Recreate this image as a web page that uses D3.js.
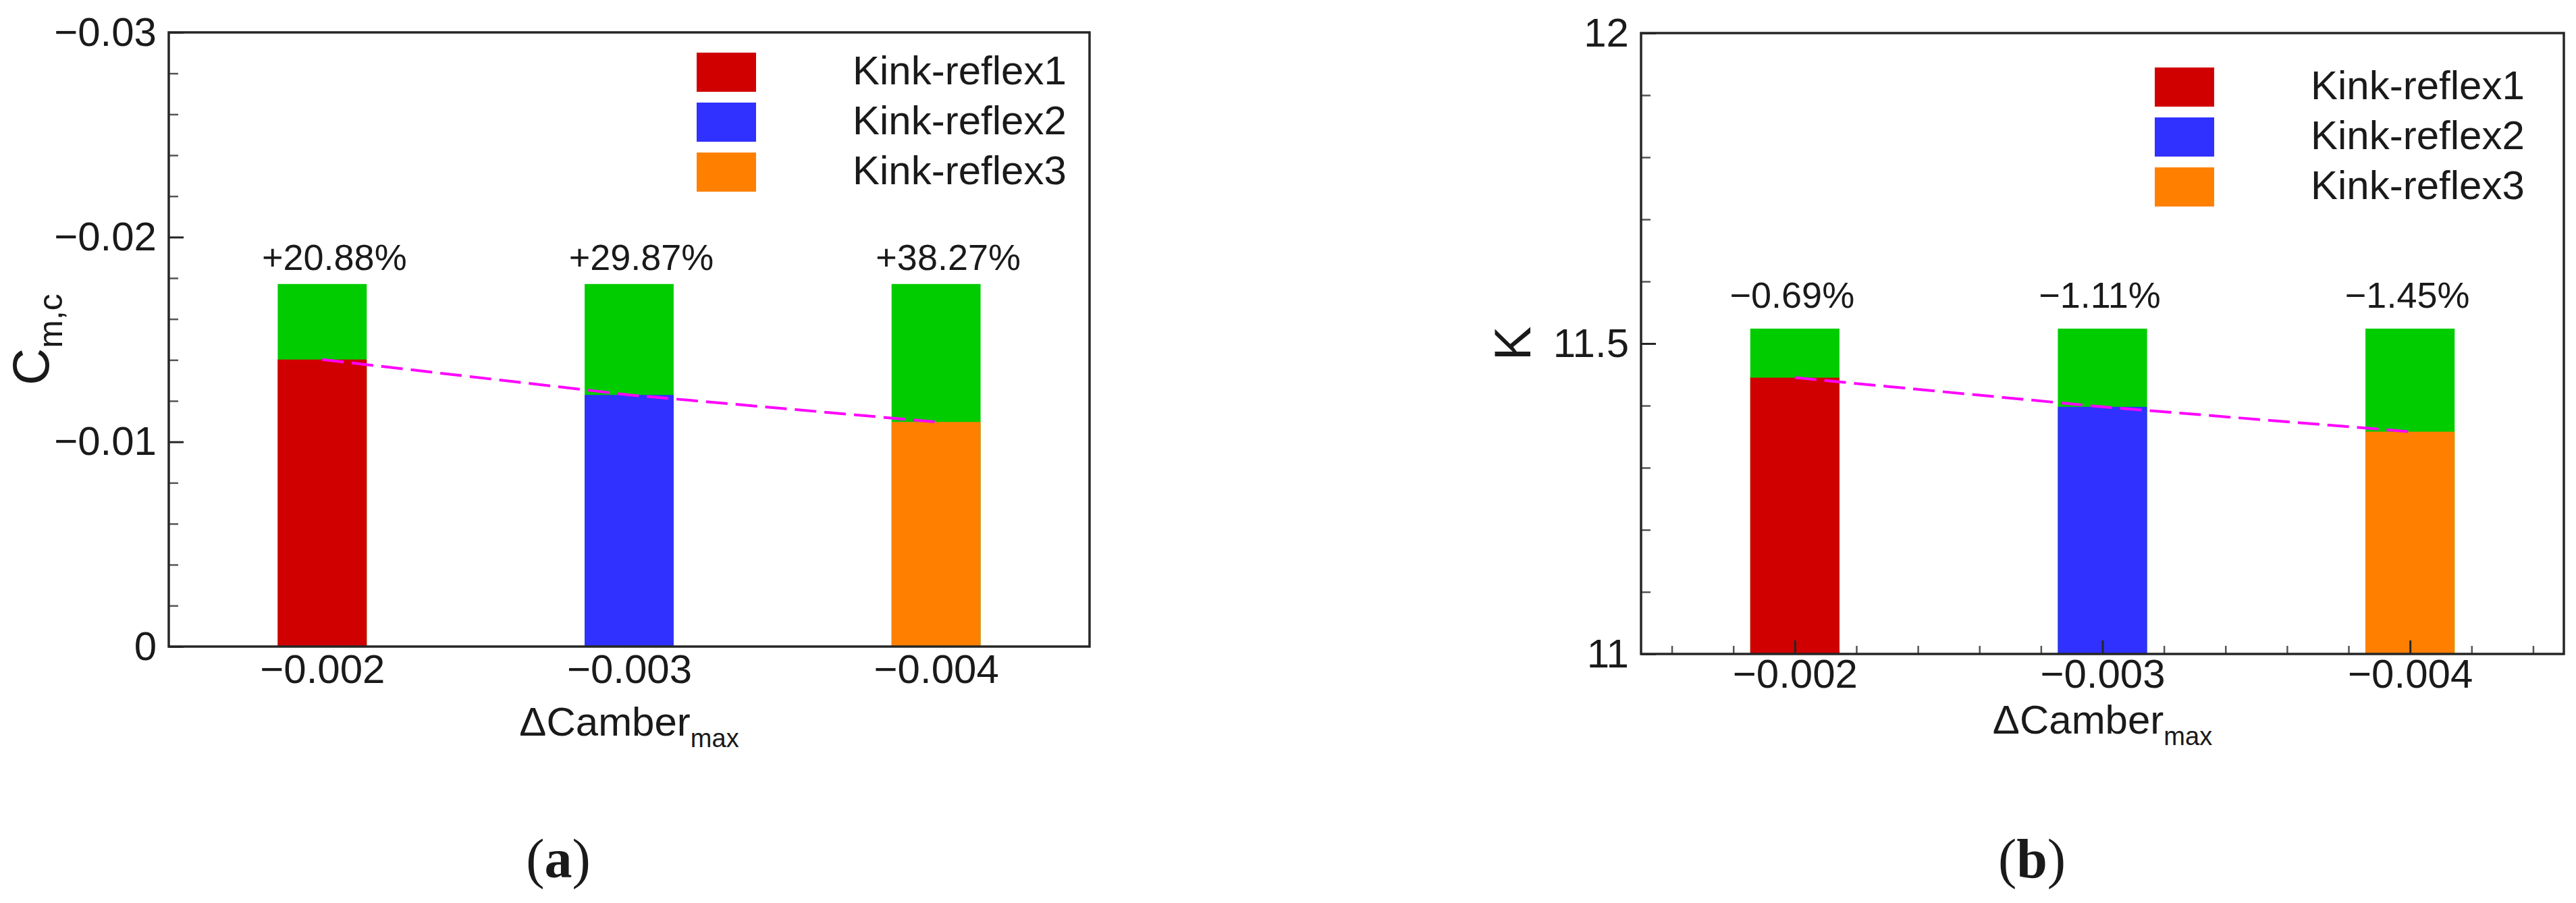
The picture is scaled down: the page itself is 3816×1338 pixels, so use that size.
<!DOCTYPE html>
<html>
<head>
<meta charset="utf-8">
<script src="https://cdn.jsdelivr.net/npm/d3@7"></script>
<style>
  body { margin: 0; background: #fff; }
  svg { display: block; }
  text { font-family: "Liberation Sans", Arial, sans-serif; fill: #1a1a1a; }
</style>
</head>
<body>
<div id="chart"></div>
<script>
// shared categories / series
const categories = ["−0.002", "−0.003", "−0.004"];
const seriesNames = ["Kink-reflex1", "Kink-reflex2", "Kink-reflex3"];

// panel (a): Cm,c
const cmBaseline = [-0.01771, -0.01771, -0.01771];
const cmKink = [-0.01402, -0.01229, -0.01097];
const cmChange = ["+20.88%", "+29.87%", "+38.27%"];
const cmTicks = [0, -0.01, -0.02, -0.03];
const cmTickLabels = ["0", "−0.01", "−0.02", "−0.03"];

// panel (b): K
const kBaseline = [11.524, 11.524, 11.524];
const kKink = [11.445, 11.398, 11.358];
const kChange = ["−0.69%", "−1.11%", "−1.45%"];
const kTicks = [11, 11.5, 12];
const kTickLabels = ["11", "11.5", "12"];

const seriesColors = ["#d00000", "#3030ff", "#ff8000"];
const baseColor = "#00cc00";
const trendColor = "#ff00ff";
const axisColor = "#262626";

const W = 3816, H = 1338;

const svg = d3.select("#chart").append("svg")
  .attr("width", W)
  .attr("height", H)
  .attr("viewBox", [0, 0, W, H]);

svg.append("rect").attr("width", W).attr("height", H).attr("fill", "#fff");

const panels = [
  {
    left: 250, right: 1614, top: 48, bottom: 958,
    domain: [0, -0.03],
    base: cmBaseline, kink: cmKink, change: cmChange,
    ticks: cmTicks, tickLabels: cmTickLabels,
    minor: d3.range(1, 15).filter(i => i % 5).map(i => -i * 0.002),
    xTicks: false, xPad: 11,
    labelDx: 18, labelGap: 21,
    legendX: 1032, legendY: 78,
    titleY: 1090, yTitle: ["C", "m,c"], yTitleX: 72,
    caption: "a", captionX: 827
  },
  {
    left: 2431, right: 3798, top: 49, bottom: 969,
    domain: [11, 12],
    base: kBaseline, kink: kKink, change: kChange,
    ticks: kTicks, tickLabels: kTickLabels,
    minor: d3.range(1, 10).filter(i => i !== 5).map(i => 11 + i * 0.1),
    xTicks: true, xPad: 7,
    labelDx: -4, labelGap: 31,
    legendX: 3192, legendY: 100,
    titleY: 1087, yTitle: ["K", ""], yTitleX: 2267,
    caption: "b", captionX: 3010
  }
];

panels.forEach(p => {
  const n = categories.length;
  const idx = d3.range(n);
  const x = d3.scaleLinear().domain([0.5, n + 0.5]).range([p.left, p.right]);
  const y = d3.scaleLinear().domain(p.domain).range([p.bottom, p.top]);
  const bw = (x(2) - x(1)) * 0.29;
  const g = svg.append("g");

  // green reference bars
  g.append("g").selectAll("rect").data(idx).join("rect")
    .attr("x", i => x(i + 1) - bw / 2)
    .attr("width", bw)
    .attr("y", i => y(p.base[i]))
    .attr("height", i => y(p.domain[0]) - y(p.base[i]))
    .attr("fill", baseColor);

  // kink-reflex bars
  g.append("g").selectAll("rect").data(idx).join("rect")
    .attr("x", i => x(i + 1) - bw / 2)
    .attr("width", bw)
    .attr("y", i => y(p.kink[i]))
    .attr("height", i => y(p.domain[0]) - y(p.kink[i]))
    .attr("fill", i => seriesColors[i]);

  // dashed trend
  g.append("path")
    .datum(idx)
    .attr("d", d3.line().x(i => x(i + 1)).y(i => y(p.kink[i])))
    .attr("fill", "none")
    .attr("stroke", trendColor)
    .attr("stroke-width", 4)
    .attr("stroke-dasharray", "32 12");

  // change labels
  g.append("g").selectAll("text").data(idx).join("text")
    .attr("x", i => x(i + 1) + p.labelDx)
    .attr("y", i => y(p.base[i]) - p.labelGap)
    .attr("text-anchor", "middle")
    .attr("font-size", 54)
    .text(i => p.change[i]);

  // y axis: minor then major ticks
  const yMinor = g.append("g")
    .attr("transform", `translate(${p.left},0)`)
    .call(d3.axisLeft(y).tickValues(p.minor).tickSize(-14).tickFormat(""));
  yMinor.selectAll("text").remove();
  const yMajor = g.append("g")
    .attr("transform", `translate(${p.left},0)`)
    .call(d3.axisLeft(y).tickValues(p.ticks).tickSizeInner(-22).tickSizeOuter(0)
      .tickPadding(18).tickFormat((d, i) => p.tickLabels[i]));

  // x axis
  const xMajor = g.append("g")
    .attr("transform", `translate(0,${p.bottom})`)
    .call(d3.axisBottom(x).tickValues(idx.map(i => i + 1))
      .tickSizeInner(p.xTicks ? -20 : 0).tickSizeOuter(0)
      .tickPadding(p.xPad).tickFormat(d => categories[d - 1]));
  const axes = [yMinor, yMajor, xMajor];
  let xMinor = null;
  if (p.xTicks) {
    xMinor = g.append("g")
      .attr("transform", `translate(0,${p.bottom})`)
      .call(d3.axisBottom(x)
        .tickValues(d3.range(3, 18).filter(i => i % 5).map(i => i * 0.2))
        .tickSize(-12).tickFormat(""));
    xMinor.selectAll("text").remove();
    axes.push(xMinor);
  }
  axes.forEach(a => {
    a.select(".domain").remove();
    a.selectAll("line").attr("stroke", axisColor).attr("stroke-width", 3);
    a.selectAll("text").attr("font-size", 60).attr("fill", "#1a1a1a")
      .attr("font-family", "Liberation Sans, Arial, sans-serif");
  });
  yMinor.selectAll("line").attr("stroke-width", 2.5).attr("stroke", "#555");
  if (xMinor) xMinor.selectAll("line").attr("stroke-width", 2.5).attr("stroke", "#555");

  // frame
  g.append("rect")
    .attr("x", p.left).attr("y", p.top)
    .attr("width", p.right - p.left).attr("height", p.bottom - p.top)
    .attr("fill", "none")
    .attr("stroke", axisColor)
    .attr("stroke-width", 3.5);

  // legend
  const lg = g.append("g").attr("transform", `translate(${p.legendX},${p.legendY})`);
  const rows = lg.selectAll("g").data(seriesNames).join("g")
    .attr("transform", (d, i) => `translate(0,${i * 74})`);
  rows.append("rect")
    .attr("width", 88).attr("height", 58)
    .attr("fill", (d, i) => seriesColors[i]);
  rows.append("text")
    .attr("x", 231).attr("y", 47)
    .attr("font-size", 60)
    .text(d => d);

  // x title
  const xt = g.append("text")
    .attr("x", (p.left + p.right) / 2)
    .attr("y", p.titleY)
    .attr("text-anchor", "middle")
    .attr("font-size", 60);
  xt.append("tspan").text("ΔCamber");
  xt.append("tspan").attr("font-size", 38).attr("dy", 17).text("max");

  // y title
  const yt = g.append("text")
    .attr("transform", `translate(${p.yTitleX},${(p.top + p.bottom) / 2}) rotate(-90)`)
    .attr("text-anchor", "middle")
    .attr("font-size", 76);
  yt.append("tspan").text(p.yTitle[0]);
  if (p.yTitle[1]) yt.append("tspan").attr("font-size", 50).attr("dy", 20).text(p.yTitle[1]);

  // caption
  const cap = svg.append("text")
    .attr("x", p.captionX)
    .attr("y", 1300)
    .attr("text-anchor", "middle")
    .attr("font-size", 82)
    .style("font-family", "'Liberation Serif', 'Times New Roman', serif");
  cap.append("tspan").text("(");
  cap.append("tspan").attr("font-weight", "bold").text(p.caption);
  cap.append("tspan").text(")");
});
</script>
</body>
</html>
